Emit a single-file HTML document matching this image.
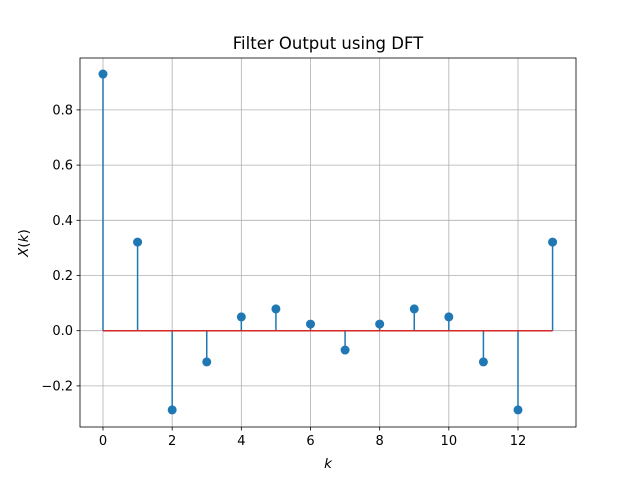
<!DOCTYPE html>
<html><head><meta charset="utf-8"><style>
body{margin:0;background:#fff;}
svg text{font-family:"DejaVu Sans","Liberation Sans",sans-serif;}
</style></head><body>
<svg id="chart" width="640" height="480" xmlns="http://www.w3.org/2000/svg">
<rect width="640" height="480" fill="#fff"/>
<g id="grid"></g><g id="marks"></g><g id="axes"></g>
<text x="328" y="49" font-size="16.5" text-anchor="middle">Filter Output using DFT</text>
<text x="328" y="468" font-size="13.5" font-style="italic" text-anchor="middle">k</text>
<text transform="translate(28,243) rotate(-90)" font-size="13.5" text-anchor="middle"><tspan font-style="italic">X</tspan>(<tspan font-style="italic">k</tspan>)</text>
</svg>
<script>
const kValues=[0,1,2,3,4,5,6,7,8,9,10,11,12,13];
const xkValues=[0.930,0.321,-0.287,-0.113,0.050,0.079,0.024,-0.070,0.024,0.079,0.050,-0.113,-0.287,0.321];
const xTicks=[0,2,4,6,8,10,12];
const yTicks=[-0.2,0.0,0.2,0.4,0.6,0.8];
const L=80,R=576,T=58,B=427;
const xs=v=>103+v*(518-103)/12;
const ys=v=>330.7-v*276;
const NS="http://www.w3.org/2000/svg";
function mk(p,t,a){const e=document.createElementNS(NS,t);for(const k in a)e.setAttribute(k,a[k]);p.appendChild(e);return e;}
const g=document.getElementById('grid'),m=document.getElementById('marks'),ax=document.getElementById('axes');
xTicks.forEach(v=>{const x=xs(v);
const l=mk(g,'line',{x1:x,x2:x,y1:T,y2:B,stroke:'#b0b0b0','stroke-width':0.8});


mk(ax,'line',{x1:x,x2:x,y1:B,y2:B+3.5,stroke:'#000','stroke-width':0.8});
const t=mk(ax,'text',{x:x,y:B+18,'font-size':13,'text-anchor':'middle'});t.textContent=v;

});
yTicks.forEach(v=>{const y=ys(v);
const l=mk(g,'line',{x1:L,x2:R,y1:y,y2:y,stroke:'#b0b0b0','stroke-width':0.8});


mk(ax,'line',{x1:L-3.5,x2:L,y1:y,y2:y,stroke:'#000','stroke-width':0.8});
const t=mk(ax,'text',{x:L-7,y:y+4.5,'font-size':13,'text-anchor':'end'});t.textContent=(v<0?'\u2212':'')+Math.abs(v).toFixed(1);

});
kValues.forEach((k,i)=>{const x=xs(k),y=ys(xkValues[i]);
const s=mk(m,'line',{x1:x,x2:x,y1:ys(0),y2:y,stroke:'#1f77b4','stroke-width':1.5});

});
const base=mk(m,'line',{x1:xs(kValues[0]),x2:xs(kValues[kValues.length-1]),y1:ys(0),y2:ys(0),stroke:'#d62728','stroke-width':1.5});


kValues.forEach((k,i)=>{const c=mk(m,'circle',{cx:xs(k),cy:ys(xkValues[i]),r:4.5,fill:'#1f77b4'});

});
const fr=mk(ax,'rect',{x:L,y:T,width:R-L,height:B-T,fill:'none',stroke:'#000','stroke-width':0.8});


</script>
</body></html>
